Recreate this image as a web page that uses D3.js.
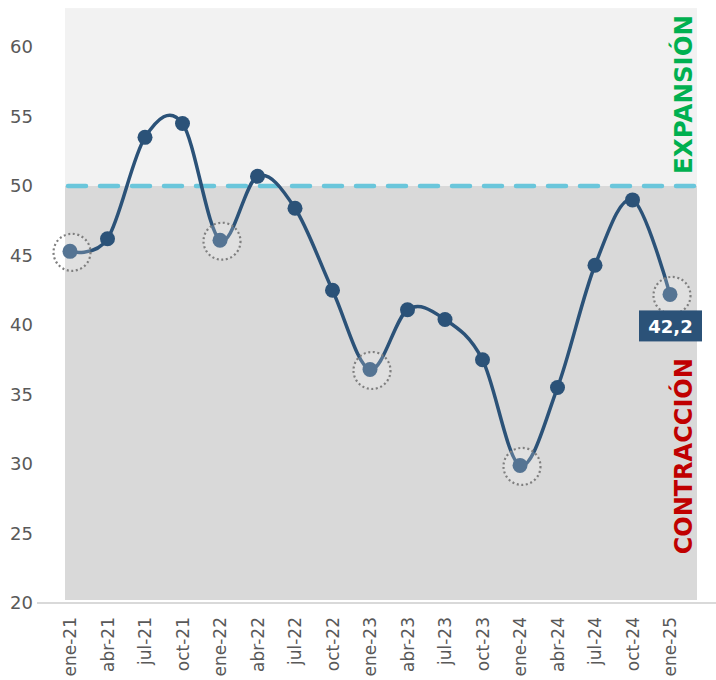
<!DOCTYPE html>
<html>
<head>
<meta charset="utf-8">
<script src="https://cdn.jsdelivr.net/npm/d3@7"></script>
<style>
  html, body { margin: 0; padding: 0; background: #ffffff; }
  svg { display: block; font-family: "DejaVu Sans", Verdana, sans-serif; }
</style>
</head>
<body>
<svg id="chart" width="716" height="680"></svg>
<script>
// Quarterly index readings, Jan 2021 – Jan 2025
const periods = ["ene-21","abr-21","jul-21","oct-21","ene-22","abr-22","jul-22","oct-22",
                 "ene-23","abr-23","jul-23","oct-23","ene-24","abr-24","jul-24","oct-24","ene-25"];
const values  = [45.3, 46.2, 53.5, 54.5, 46.1, 50.7, 48.4, 42.5,
                 36.8, 41.1, 40.4, 37.5, 29.9, 35.5, 44.3, 49.0, 42.2];
const yTicks = [20, 25, 30, 35, 40, 45, 50, 55, 60];
const threshold = 50;
const zoneLabels = ["EXPANSIÓN", "CONTRACCIÓN"];
// January readings get a dotted highlight ring
const highlighted = ["ene-21", "ene-22", "ene-23", "ene-24", "ene-25"];
const lastLabel = "42,2";

const svg = d3.select("#chart");

const x = d3.scalePoint().domain(periods).range([70, 670]);
const y = d3.scaleLinear().domain([20, 60]).range([603, 47]);

const plotLeft = 65, plotRight = 697;
const plotTopValue = 62.8;

// Background zones
svg.append("rect")
  .attr("x", plotLeft).attr("width", plotRight - plotLeft)
  .attr("y", y(plotTopValue)).attr("height", y(threshold) - y(plotTopValue))
  .attr("fill", "#f2f2f2");
svg.append("rect")
  .attr("x", plotLeft).attr("width", plotRight - plotLeft)
  .attr("y", y(threshold)).attr("height", y(20) - 3 - y(threshold))
  .attr("fill", "#d9d9d9");

// Baseline
svg.append("line")
  .attr("x1", 37).attr("x2", 716)
  .attr("y1", y(20)).attr("y2", y(20))
  .attr("stroke", "#d9d9d9").attr("stroke-width", 2);

// Y axis labels
const yAxis = d3.axisLeft(y).tickValues(yTicks).tickSize(0).tickPadding(0);
const yg = svg.append("g").attr("transform", "translate(33,0)").call(yAxis);
yg.select(".domain").remove();
yg.selectAll("text")
  .attr("fill", "#595959")
  .style("font-size", "18px")
  .style("font-family", "'DejaVu Sans', Verdana, sans-serif");

// X axis labels (rotated)
const xAxis = d3.axisBottom(x).tickSize(0).tickPadding(0);
const xg = svg.append("g").attr("transform", `translate(0,${y(20)})`).call(xAxis);
xg.select(".domain").remove();
xg.selectAll("text")
  .attr("fill", "#595959")
  .style("font-size", "17px")
  .style("font-family", "'DejaVu Sans', Verdana, sans-serif")
  .attr("text-anchor", "end")
  .attr("dy", "0.35em")
  .attr("transform", "translate(0,14) rotate(-90)");

// Threshold line
svg.append("line")
  .attr("x1", 68).attr("x2", 708)
  .attr("y1", y(threshold)).attr("y2", y(threshold))
  .attr("stroke", "#6ac6db").attr("stroke-width", 4.5)
  .attr("stroke-dasharray", "18 14")
  .attr("stroke-linecap", "round");

// Series line
const line = d3.line()
  .x((d, i) => x(periods[i]))
  .y(d => y(d))
  .curve(d3.curveCardinal.tension(0));

svg.append("path")
  .datum(values)
  .attr("d", line)
  .attr("fill", "none")
  .attr("stroke", "#2b5278")
  .attr("stroke-width", 3.5);

// Markers
svg.append("g").selectAll("circle")
  .data(values)
  .join("circle")
  .attr("cx", (d, i) => x(periods[i]))
  .attr("cy", d => y(d))
  .attr("r", 7.5)
  .attr("fill", "#2b5278");

// Highlight rings on January readings
svg.append("g").selectAll("circle")
  .data(highlighted)
  .join("circle")
  .attr("cx", p => x(p) + 2)
  .attr("cy", p => y(values[periods.indexOf(p)]) + 1)
  .attr("r", 18.5)
  .attr("fill", "rgba(255,255,255,0.2)")
  .attr("stroke", "#7f7f7f")
  .attr("stroke-width", 2.2)
  .attr("stroke-dasharray", "2 2.6");

// Value label for the last reading
const lastX = x(periods[periods.length - 1]);
const lastY = y(values[values.length - 1]);
svg.append("rect")
  .attr("x", lastX - 31).attr("y", lastY + 16)
  .attr("width", 63).attr("height", 31)
  .attr("fill", "#2b5278");
svg.append("text")
  .attr("x", lastX + 0.5).attr("y", lastY + 32)
  .attr("dy", "0.35em")
  .attr("text-anchor", "middle")
  .attr("fill", "#ffffff")
  .style("font-size", "18px")
  .style("font-weight", "bold")
  .text(lastLabel);

// Zone labels
svg.append("text")
  .attr("transform", `translate(692,15) rotate(-90)`)
  .attr("text-anchor", "end")
  .attr("fill", "#00b050")
  .style("font-size", "24.5px")
  .style("font-weight", "bold")
  .text(zoneLabels[0]);
svg.append("text")
  .attr("transform", `translate(692,${y(23.5)}) rotate(-90)`)
  .attr("text-anchor", "start")
  .attr("fill", "#c00000")
  .style("font-size", "24px")
  .style("font-weight", "bold")
  .text(zoneLabels[1]);
</script>
</body>
</html>
